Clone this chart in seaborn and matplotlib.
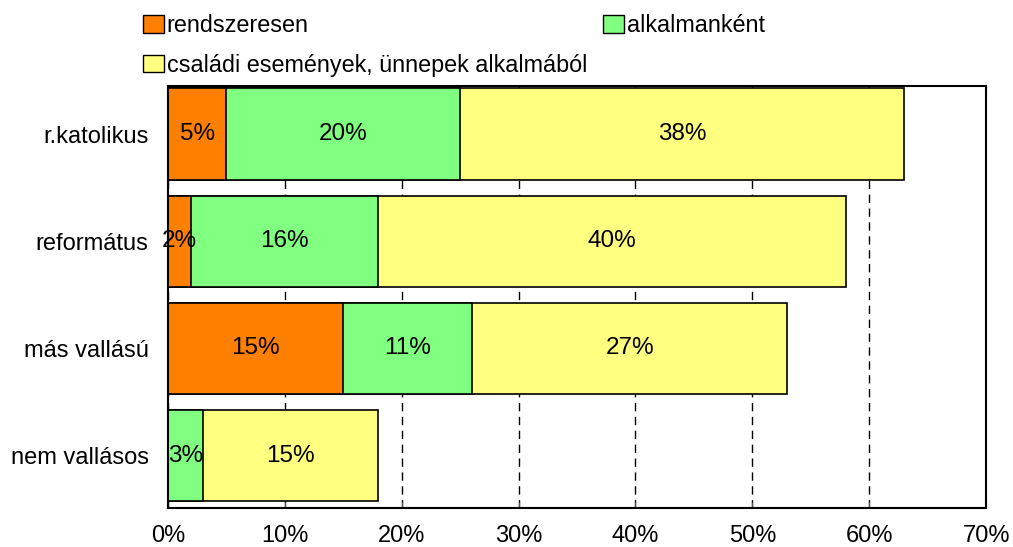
import matplotlib
matplotlib.use("Agg")
import matplotlib.pyplot as plt
import seaborn as sns
import pandas as pd
from matplotlib.patches import Patch

# data (percent)
categories = ['r.katolikus', 'református', 'más vallású', 'nem vallásos']
rendszeresen = [5, 2, 15, 0]
alkalmankent = [20, 16, 11, 3]
csaladi = [38, 40, 27, 15]

series_names = ['rendszeresen', 'alkalmanként', 'családi események, ünnepek alkalmából']
colors = ['#FF8000', '#80FF80', '#FFFF80']
x_ticks = [0, 10, 20, 30, 40, 50, 60, 70]

sns.set_style("ticks")
plt.rcParams['font.family'] = ['Liberation Sans', 'DejaVu Sans']
plt.rcParams['text.color'] = 'black'
plt.rcParams['xtick.color'] = 'black'
plt.rcParams['ytick.color'] = 'black'

df = pd.DataFrame({
    'category': categories,
    'r': rendszeresen,
    'a': alkalmankent,
    'c': csaladi,
})
df['ra'] = df['r'] + df['a']
df['rac'] = df['ra'] + df['c']

fig = plt.figure(figsize=(10.13, 5.47), dpi=100)
ax = fig.add_axes([0.1658, 0.0713, 0.8076, 0.7715])

# stacked bars by overdrawing cumulative totals
for col, colr in zip(['rac', 'ra', 'r'], colors[::-1]):
    sns.barplot(data=df, x=col, y='category', orient='h', color=colr,
                saturation=1, edgecolor='black', linewidth=1.2, width=0.85, ax=ax)

# segment labels
for i, row in df.iterrows():
    left = 0
    for val in (row['r'], row['a'], row['c']):
        if val > 0:
            ax.text(left + val / 2, i, f"{val}%", ha='center', va='center', fontsize=17.5)
        left += val

ax.set_xlim(0, 70)
ax.set_ylim(3.488, -0.448)
ax.set_xticks(x_ticks)
ax.set_xticklabels([f"{t}%" for t in x_ticks])
ax.set_xlabel('')
ax.set_ylabel('')
ax.set_axisbelow(True)
ax.xaxis.grid(True, linestyle=(0, (6, 4)), color='black', linewidth=1)
ax.tick_params(axis='x', direction='in', top=True, bottom=True, length=4,
               labelsize=17, pad=12, color='#555555')
ax.tick_params(axis='y', length=0, labelsize=17, pad=14)
for s in ax.spines.values():
    s.set_visible(True)
    s.set_color('black')
    s.set_linewidth(1.5)

# column-major fill: row 1 -> rendszeresen, alkalmanként; row 2 -> családi
order = [0, 2, 1]
handles = [Patch(facecolor=colors[k], edgecolor='black', linewidth=1) for k in order]
labels = [series_names[k] for k in order]
fig.legend(handles, labels, ncol=2, loc='upper left',
           bbox_to_anchor=(0.123, 1.008), frameon=False, fontsize=16.8,
           handlelength=0.9, handleheight=0.8, handletextpad=0.1,
           columnspacing=0.7, labelspacing=0.7, borderpad=0.3)

fig.savefig('out.png', dpi=100)
